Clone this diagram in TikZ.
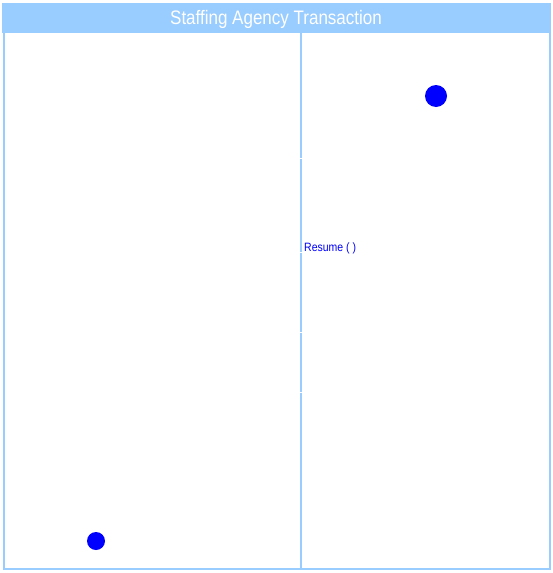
\documentclass[tikz,border=0pt]{standalone}
\usepackage{fontspec}
\setmainfont{Liberation Sans}
\definecolor{lane}{RGB}{153,204,255}
\definecolor{dotblue}{RGB}{0,0,255}
\begin{document}
\begin{tikzpicture}[x=1pt,y=-1pt,
  border/.style={draw=lane,line width=1.8pt},
  dot/.style={circle,fill=dotblue,inner sep=0pt},
  msg/.style={text=dotblue,inner sep=0pt,anchor=base west,font=\fontsize{10.5}{12}\selectfont}]
\useasboundingbox (0,0) rectangle (553,573);
\fill[white] (0,0) rectangle (553,573);
% header
\fill[lane] (1.7,3.2) rectangle (550.7,32.7);
\node[text=white,inner sep=0pt,anchor=base,font=\fontsize{17}{20}\selectfont] (title) at (276,24) {\scalebox{1}[1.15]{Staffing Agency Transaction}};
% frame
\coordinate (tl) at (3.8,32.7);
\coordinate (bl) at (3.8,568.7);
\coordinate (br) at (549.7,568.7);
\coordinate (tr) at (549.7,32.7);
\draw[border] (tl) -- (bl) -- (br) -- (tr);
% divider with small breaks
\coordinate (d0) at (300.8,32.7);
\coordinate (d1) at (300.8,157.8);
\coordinate (d2) at (300.8,158.8);
\coordinate (d3) at (300.8,252.2);
\coordinate (d4) at (300.8,253.2);
\coordinate (d5) at (300.8,331.8);
\coordinate (d6) at (300.8,332.8);
\coordinate (d7) at (300.8,391.5);
\coordinate (d8) at (300.8,392.5);
\coordinate (d9) at (300.8,567.8);
\draw[border] (d0) -- (d1);
\draw[border] (d2) -- (d3);
\draw[border] (d4) -- (d5);
\draw[border] (d6) -- (d7);
\draw[border] (d8) -- (d9);
% start / end dots
\node[dot,minimum size=22pt] (start) at (436,96) {};
\node[dot,minimum size=18pt] (final) at (96,541) {};
% message label
\node[msg] (resume) at (304,251) {\scalebox{1}[1.15]{Resume ( )}};
\end{tikzpicture}
\end{document}
